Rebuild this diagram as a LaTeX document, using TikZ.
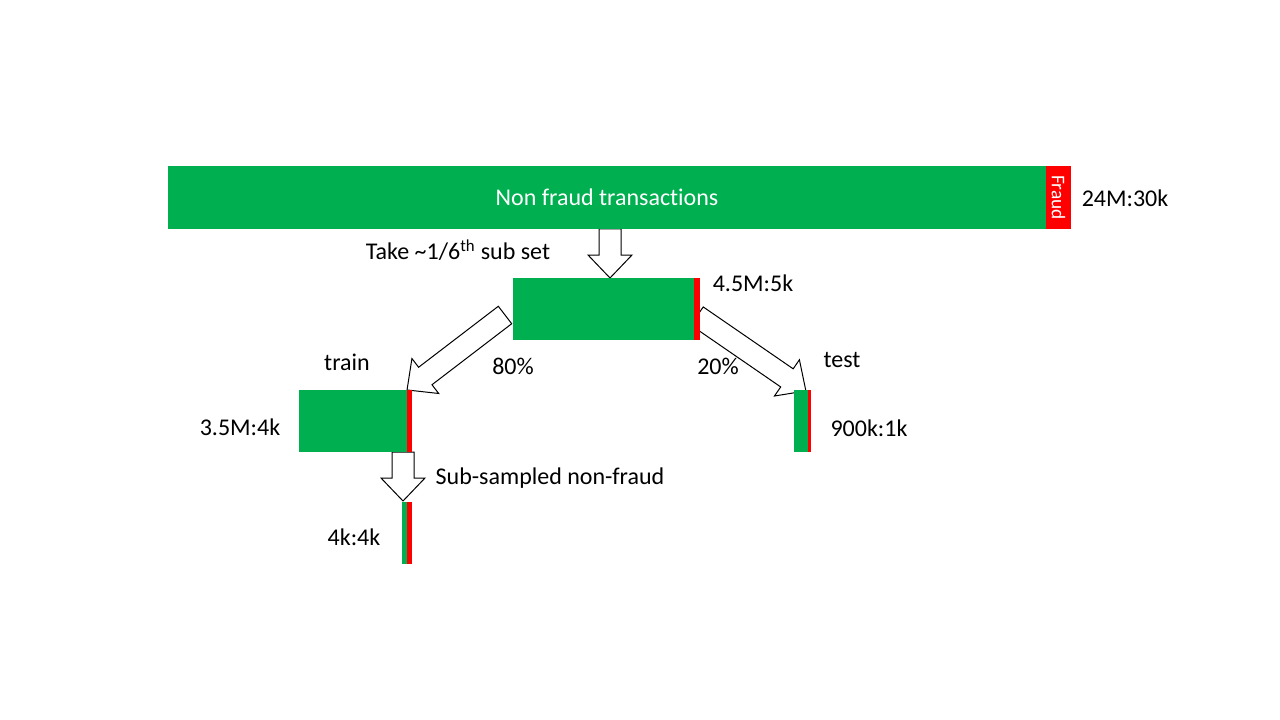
\documentclass[tikz,border=0pt]{standalone}
\usepackage{fontspec}
\setmainfont[Ligatures={NoCommon}]{Carlito}
\usetikzlibrary{positioning,calc,backgrounds}
\definecolor{nonfraud}{HTML}{00B050}
\definecolor{fraud}{HTML}{FF0000}
% hollow block arrow from #1 to #2
\newcommand{\blockarrow}[2]{%
    \draw[block arrow] let \p1=(#1), \p2=(#2),
        \n1={atan2(\y2-\y1,\x2-\x1)}, \n2={veclen(\x2-\x1,\y2-\y1)} in
        [shift={(\p1)}, rotate=\n1]
        (0pt,-8.25pt) -- ({\n2-17.25pt},-8.25pt) -- ({\n2-17.25pt},-16.5pt)
        -- ({\n2+0pt},0pt) -- ({\n2-17.25pt},16.5pt) -- ({\n2-17.25pt},8.25pt)
        -- (0pt,8.25pt) -- cycle;}
\begin{document}
\begin{tikzpicture}[x=0.75pt,y=-0.75pt]
    \tikzstyle{set}=[rectangle,inner sep=0pt,outer sep=0pt,minimum height=46.5pt]
    \tikzstyle{green set}=[set,fill=nonfraud,anchor=north west]
    \tikzstyle{red set}=[set,fill=fraud]
    \tikzstyle{count}=[inner sep=0pt,font=\fontsize{18}{21.6}\selectfont]
    \tikzstyle{block arrow}=[draw=black,fill=white,line width=0.75pt,line join=miter]

    \useasboundingbox (0,0) rectangle (1280,720);

    % Draw the full data set
    \node[green set, minimum width=658.5pt, minimum height=47.25pt] (all-G) at (168,166) {};
    \node[red set, minimum width=18.75pt, minimum height=47.25pt, right=0pt of all-G] (all-R) {};
    \node[count, text=white] at (all-G) {Non fraud transactions};
    \node[count, text=white, rotate=-90, font=\fontsize{14.5}{17}\selectfont] at (all-R) {Fraud};
    \node[count] (all-C) at (1125,198) {24M:30k};

    % Draw the sub sets (non fraud part and fraud part)
    \foreach \name/\x/\y/\gw/\rw in {sub/513/278/135.75/4.5, train/299/390/81/3.75,
                                     test/794/390/10.5/2.25, bal/402/502/3.75/3.75}
    {
        \node[green set, minimum width=\gw pt] (\name-G) at (\x,\y) {};
        \node[red set, minimum width=\rw pt, right=0pt of \name-G] (\name-R) {};
    }

    % Counts and captions
    \node[count] (take) at (458,250) {Take \textasciitilde1/6\textsuperscript{th} sub set};
    \node[count] (sub-C) at (753,283) {4.5M:5k};
    \node[count] (p-train) at (513,366) {80\%};
    \node[count] (p-test) at (718,366) {20\%};
    \node[count] (train-T) at (347,362) {train};
    \node[count] (test-T) at (842,360) {test};
    \node[count] (train-C) at (240,427) {3.5M:4k};
    \node[count] (test-C) at (869,428) {900k:1k};
    \node[count] (bal-T) at (550,478) {Sub-sampled non-fraud};
    \node[count] (bal-C) at (354,537) {4k:4k};

    % Arrow ends
    \coordinate (take-in) at (610,229);
    \coordinate (take-out) at (610,278);
    \coordinate (sub-out-l) at (505,315);
    \coordinate (sub-out-r) at (697,316);
    \coordinate (test-in) at (806,391);
    \coordinate (bal-in) at (403,452);
    \coordinate (bal-out) at (403,501);

    % Connect the sets with block arrows behind the boxes
    \begin{pgfonlayer}{background}
        \blockarrow{take-in}{take-out}
        \blockarrow{sub-out-l}{train-G.north east}
        \blockarrow{sub-out-r}{test-in}
        \blockarrow{bal-in}{bal-out}
    \end{pgfonlayer}

\end{tikzpicture}
\end{document}
